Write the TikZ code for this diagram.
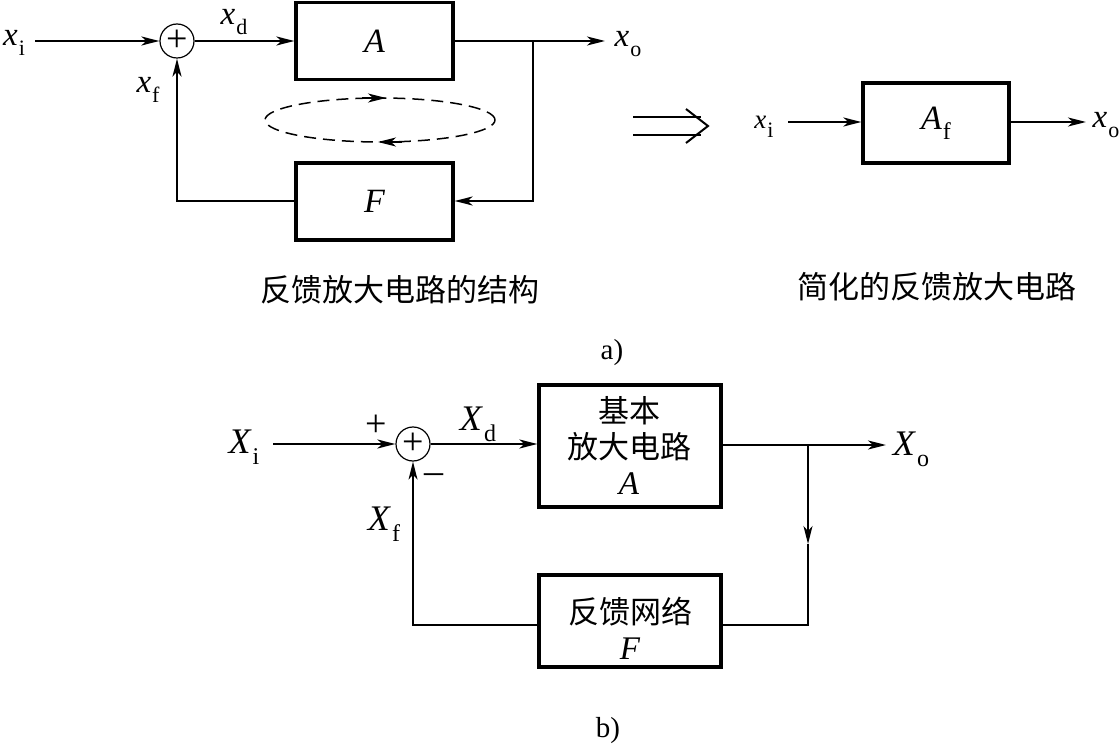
\documentclass[tikz,border=0pt]{standalone}
\usepackage{fontspec}
\setmainfont{Liberation Serif}
\newfontfamily\cjk{Noto Sans CJK SC}
\usetikzlibrary{arrows.meta}
\newcommand\vsig[2]{\textit{#1}\kern1pt\raisebox{-0.32em}{\fontsize{22}{22}\selectfont #2}}
\newcommand\Vsig[2]{\textit{#1}\kern1pt\raisebox{-0.3em}{\fontsize{24}{24}\selectfont #2}}
\tikzset{
  lbl/.style={font=\fontsize{33}{35}\selectfont, inner sep=0pt},
  blbl/.style={font=\fontsize{36}{38}\selectfont, inner sep=0pt},
  cjkt/.style={font=\cjk\fontsize{31}{36}\selectfont, inner sep=0pt, align=center},
  blk/.style={draw, line width=3.2pt, inner sep=0pt},
  wire/.style={line width=2pt},
  thinwire/.style={line width=1.5pt},
  sig/.style={-{Stealth[length=18pt,width=9pt,inset=5pt]}},
  sumnode/.style={circle, draw, line width=1.2pt, minimum size=34pt, inner sep=0pt},
  smallsym/.style={font=\fontsize{38}{38}\selectfont, inner sep=0pt},
}
\begin{document}
\begin{tikzpicture}[x=1pt,y=-1pt]
\useasboundingbox (0,0) rectangle (1120,746);

% ---------- part a, left ----------
\node[lbl] (xi) at (14,43) {\vsig{x}{i}};
\node[sumnode] (s1) at (177,41) {};
\node[smallsym] at (s1.center) {+};
\node[blk, minimum width=157pt, minimum height=77pt, font=\fontsize{34}{34}\selectfont\itshape] (A1) at (374.5,41) {A};
\node[blk, minimum width=157pt, minimum height=77pt, font=\fontsize{34}{34}\selectfont\itshape] (F1) at (374.5,201.5) {F};
\node[lbl] (xd) at (234,22) {\vsig{x}{d}};
\node[lbl] (xf) at (148,90) {\vsig{x}{f}};
\node[lbl] (xo) at (628,44) {\vsig{x}{o}};
\coordinate (ai) at (35,41);
\coordinate (ao) at (605,41);
\coordinate (ab) at (533,41);
\coordinate (abf) at (533,201);
\coordinate (afl) at (177,201);

\draw[wire, sig] (ai) -- (s1.west);
\draw[wire, sig] (s1.east) -- (s1.east -| A1.west);
\draw[wire, sig] (A1.east |- ao) -- (ao);
\draw[wire, sig] (ab) -- (abf) -- (abf -| F1.east);
\draw[wire, sig] (abf -| F1.west) -- (afl) -- (s1.south);

% dashed loop
\draw[line width=1.5pt, dash pattern=on 12pt off 7pt] (380,120) ellipse [x radius=115pt, y radius=22pt];
\draw[line width=1.5pt, sig] (362,98) -- (386,98);
\draw[line width=1.5pt, sig] (402,142) -- (378,142);

\node[cjkt] (capa) at (400,290) {反馈放大电路的结构};

% double arrow
\draw[line width=2pt] (633,117) -- (701,117) (633,135) -- (701,135);
\draw[line width=2pt] (686,109) -- (708,126) -- (686,143);

% ---------- part a, right ----------
\node[lbl, font=\fontsize{27}{28}\selectfont] (xi2) at (764,127) {\vsig{x}{i}};
\node[blk, minimum width=146pt, minimum height=80pt, font=\fontsize{34}{34}\selectfont] (Af) at (936,123) {\Vsig{A}{f}};
\node[lbl] (xo2) at (1106,125) {\vsig{x}{o}};
\coordinate (ci) at (788,122);
\coordinate (co) at (1086,122);
\draw[wire, sig] (ci) -- (ci -| Af.west);
\draw[wire, sig] (Af.east |- co) -- (co);
\node[cjkt] (capb) at (937,287) {简化的反馈放大电路};

\node[font=\fontsize{29}{30}\selectfont, inner sep=0pt] (la) at (612,353) {a)};

% ---------- part b ----------
\node[blbl] (Xi) at (244,447) {\Vsig{X}{i}};
\node[sumnode] (s2) at (413,444) {};
\node[smallsym] at (s2.center) {+};
\node[smallsym] (plus) at (376,426) {+};
\node[smallsym] (minus) at (434,479) {\textendash};
\node[blbl] (Xd) at (478,424) {\Vsig{X}{d}};
\node[blbl] (Xf) at (384,524) {\Vsig{X}{f}};
\node[blbl] (Xo) at (911,449) {\Vsig{X}{o}};
\node[blk, minimum width=182pt, minimum height=122pt] (A2) at (630,446) {};
\node[cjkt] (A2t) at (629,445) {基本\\放大电路\\{\rmfamily\itshape\fontsize{33}{36}\selectfont A}};
\node[blk, minimum width=182pt, minimum height=92pt] (F2) at (630,621) {};
\node[cjkt] (F2t) at (630,628) {反馈网络\\{\rmfamily\itshape\fontsize{33}{36}\selectfont F}};
\coordinate (bi) at (273,444);
\coordinate (bo) at (886,445);
\coordinate (bb) at (808,445);
\coordinate (bm) at (808,544);
\coordinate (bbf) at (808,625);
\coordinate (bfl) at (413,625);

\draw[wire, sig] (bi) -- (s2.west);
\draw[wire, sig] (s2.east) -- (s2.east -| A2.west);
\draw[wire, sig] (A2.east |- bo) -- (bo);
\draw[thinwire, sig] (bb) -- (bm);
\draw[thinwire] (bm) -- (bbf) -- (bbf -| F2.east);
\draw[thinwire, sig] (bbf -| F2.west) -- (bfl) -- (s2.south);

\node[font=\fontsize{29}{30}\selectfont, inner sep=0pt] (lb) at (608,731) {b)};
\end{tikzpicture}
\end{document}
